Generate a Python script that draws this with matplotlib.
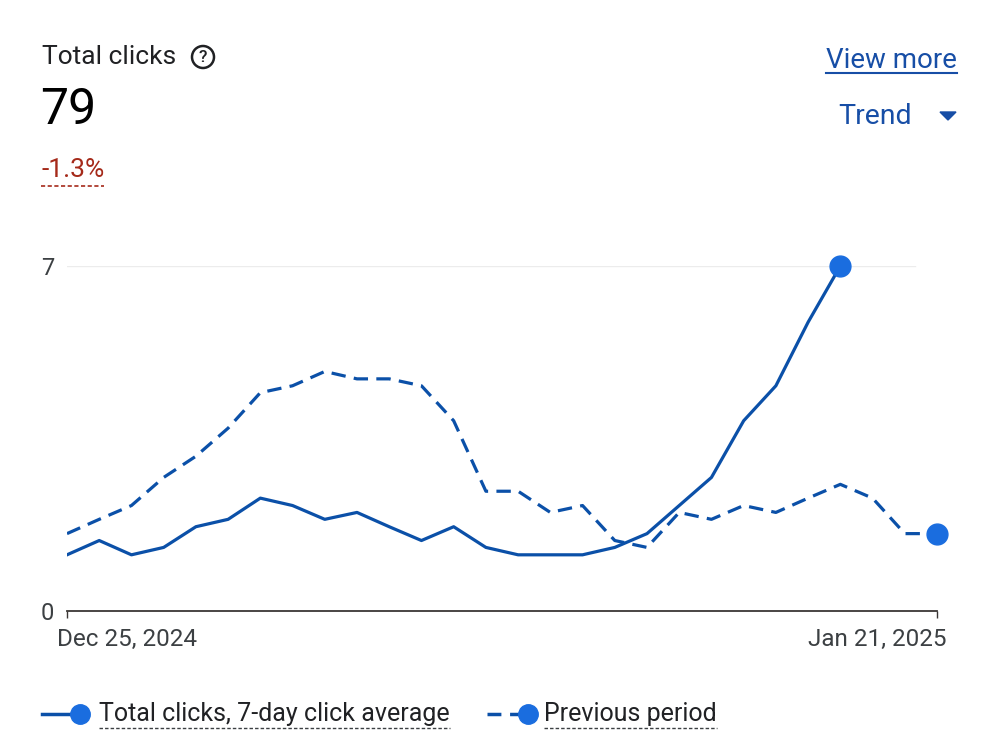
import matplotlib
matplotlib.use("Agg")
import matplotlib.pyplot as plt
import matplotlib.dates as mdates
from matplotlib.patches import Ellipse, Polygon
from matplotlib.lines import Line2D
import pandas as pd

plt.rcParams['font.family'] = ['Roboto', 'DejaVu Sans']

# ---- data ----
start_date = "2024-12-25"
n_days = 28
current = [1.14, 1.43, 1.14, 1.29, 1.71, 1.86, 2.29, 2.14, 1.86, 2.0, 1.71, 1.43,
           1.71, 1.29, 1.14, 1.14, 1.14, 1.29, 1.57, 2.14, 2.71, 3.86, 4.57, 5.86, 7.0]
previous = [1.57, 1.86, 2.14, 2.71, 3.14, 3.71, 4.43, 4.57, 4.86, 4.71, 4.71, 4.57,
            3.86, 2.43, 2.43, 2.0, 2.14, 1.43, 1.29, 2.0, 1.86, 2.14, 2.0, 2.29,
            2.57, 2.29, 1.57, 1.57]
x_labels = ["Dec 25, 2024", "Jan 21, 2025"]
y_ticks = [0, 7]
title = "Total clicks"
total_value = "79"
change_text = "-1.3%"
legend_labels = ["Total clicks, 7-day click average", "Previous period"]

dates = pd.date_range(start_date, periods=n_days, freq="D")

LINE = "#0b50a8"
MARK = "#1a6ddf"
DARK = "#202124"
AXTXT = "#3c4043"

fig = plt.figure(figsize=(10, 7.5), dpi=100)
W, H = 1000, 750


def fx(px):
    return px / W


def fy(py):
    return 1 - py / H


ax = fig.add_axes([fx(67), fy(611), fx(937) - fx(67), fy(266) - fy(611)])
ax.plot(dates[:len(current)], current, color=LINE, lw=2.3, solid_joinstyle='round', zorder=3)
ax.plot(dates, previous, color=LINE, lw=2.3, ls=(0, (4.5, 2.6)), zorder=2)
ax.plot(dates[len(current) - 1], current[-1], 'o', color=MARK, ms=15, clip_on=False, zorder=5)
ax.plot(dates[-1], previous[-1], 'o', color=MARK, ms=15, clip_on=False, zorder=5)

ax.set_xlim(dates[0], dates[-1])
ax.set_ylim(0, 7)
ax.axhline(7, xmin=0.0, xmax=0.975, color="#ececec", lw=1, zorder=0)
for s in ["top", "right", "left"]:
    ax.spines[s].set_visible(False)
ax.spines["bottom"].set_color("#3b3735")
ax.spines["bottom"].set_linewidth(1.3)
ax.set_yticks(y_ticks)
ax.set_yticklabels([str(v) for v in y_ticks], fontsize=17, color=AXTXT)
ax.tick_params(axis='y', length=0, pad=9)
ax.set_xticks([dates[0], dates[-1]])
ax.set_xticklabels([])
ax.tick_params(axis='x', length=5, width=1, color="#3b3735", direction='out')

# date labels
ax.text(mdates.date2num(dates[0]) - 0.3, -0.35, x_labels[0], ha='left', va='top',
        fontsize=17.5, color=AXTXT)
ax.text(mdates.date2num(dates[-1]) + 0.3, -0.35, x_labels[1], ha='right', va='top',
        fontsize=17.5, color=AXTXT)

# header texts
fig.text(fx(42), fy(57), title, fontsize=19, color=DARK, va='center', ha='left')
fig.add_artist(Ellipse((fx(203), fy(57)), 22 / W, 22 / H, transform=fig.transFigure,
                       fill=False, ec=DARK, lw=1.8))
fig.text(fx(203), fy(57.5), "?", fontsize=12.5, color=DARK, va='center', ha='center',
         fontweight='medium')
fig.text(fx(40), fy(110), total_value, fontsize=36, color="#000000", va='center', ha='left')
t_change = fig.text(fx(41), fy(170), change_text, fontsize=19, color="#a52a1a",
                    va='center', ha='left')

t_view = fig.text(fx(957), fy(61), "View more", fontsize=20, color="#174ea6",
                  va='center', ha='right')
fig.text(fx(912), fy(116), "Trend", fontsize=20.5, color="#174ea6", va='center', ha='right')
fig.add_artist(Polygon([[fx(940), fy(112)], [fx(956), fy(112)], [fx(948), fy(120)]],
                       closed=True, transform=fig.transFigure, color="#174ea6"))

# legend
fig.add_artist(Line2D([fx(42), fx(72)], [fy(714), fy(714)], transform=fig.transFigure,
                      color=LINE, lw=2.5))
fig.add_artist(Line2D([fx(80)], [fy(714)], transform=fig.transFigure, marker='o',
                      color=MARK, ms=14))
t_l1 = fig.text(fx(99), fy(714), legend_labels[0], fontsize=18, color=DARK,
                va='center', ha='left')
fig.add_artist(Line2D([fx(487), fx(522)], [fy(714), fy(714)], transform=fig.transFigure,
                      color=LINE, lw=2.5, ls=(0, (4, 2.5))))
fig.add_artist(Line2D([fx(528)], [fy(714)], transform=fig.transFigure, marker='o',
                      color=MARK, ms=14))
t_l2 = fig.text(fx(544), fy(714), legend_labels[1], fontsize=18, color=DARK,
                va='center', ha='left')

fig.canvas.draw()
r = fig.canvas.get_renderer()


def underline(t, ypx, color, ls, lw):
    bb = t.get_window_extent(r)
    x0, x1 = bb.x0 / W, bb.x1 / W
    fig.add_artist(Line2D([x0, x1], [fy(ypx), fy(ypx)], transform=fig.transFigure,
                          color=color, ls=ls, lw=lw))


underline(t_view, 73, "#174ea6", '-', 1.5)
underline(t_change, 186, "#a52a1a", (0, (2.5, 1.5)), 1.2)
underline(t_l1, 728, "#3c4043", (0, (2.5, 1.5)), 1.0)
underline(t_l2, 728, "#3c4043", (0, (2.5, 1.5)), 1.0)

fig.savefig("out.png", dpi=100, facecolor="white")
